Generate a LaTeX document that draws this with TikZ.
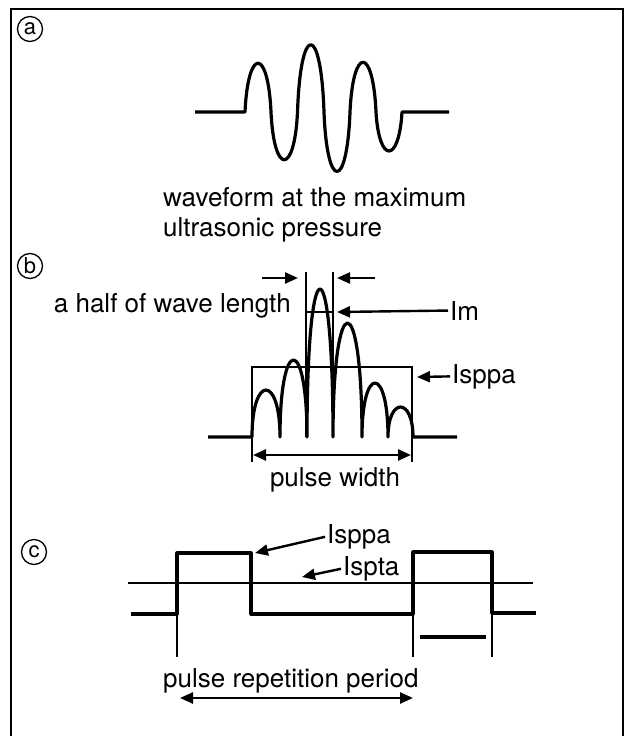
\documentclass[tikz,border=0pt]{standalone}
\usepackage{fontspec}
\setmainfont{TeX Gyre Heros}
\usetikzlibrary{arrows.meta}

\begin{document}
\begin{tikzpicture}[x=1pt,y=-1pt,
  wave/.style={line width=3.2pt, line join=round},
  guide/.style={line width=1.4pt},
  arr/.style={line width=2.4pt, shorten <=2pt, -{Triangle[length=13pt,width=11pt]}},
  darr/.style={line width=2.4pt, {Triangle[length=13pt,width=11pt]}-{Triangle[length=13pt,width=11pt]}},
  lbl/.style={inner sep=0pt, font=\fontsize{26}{30}\selectfont},
  tag/.style={circle, draw, line width=1.3pt, inner sep=0pt, minimum size=25pt,
    font=\fontsize{22}{22}\selectfont}]
\useasboundingbox (0,0) rectangle (637,736);
%% frame, open at the bottom
\draw[guide] (11,736) -- (11,9) -- (623,9) -- (623,736);

%% (a) waveform at the maximum pressure
\node[tag] (taga) at (30,29) {a};
\draw[wave] (195,112) -- (245,112)
  foreach \a/\b/\h in {245/271/50, 271/297.5/-49, 297.5/324/69,
                       324/350/-61, 350/376/51, 376/402/-40} {
    .. controls ({\a+3},{112-1.3*\h}) and ({\b-3},{112-1.3*\h}) .. (\b,112)
  } -- (449,112);
\node[lbl, anchor=base west] (capa) at (163,206) {waveform at the maximum};
\node[lbl, anchor=base west] (capb) at (163,236) {ultrasonic pressure};

%% (b) intensity pulse
\node[tag] (tagb) at (30,266) {b};
\draw[wave] (208,437) -- (252,437)
  foreach \a/\b/\h in {252/280/47, 280/307/77, 307/333/148,
                       333/362/114, 362/388/54, 388/413/30} {
    .. controls (\a,{437-1.333*\h}) and (\b,{437-1.333*\h}) .. (\b,437)
  } -- (457,437);
%% Isppa box and half wave length marks
\draw[guide] (252,462) -- (252,367) -- (412,367) -- (412,462);
\draw[guide] (306,272) -- (306,437);
\draw[guide] (333,272) -- (333,437);
\draw[guide] (306,312) -- (333,312);
\node[lbl, anchor=base east] (half) at (291,312) {a half of wave length};
\coordinate (hlA) at (262,278);
\coordinate (hlB) at (298,278);
\coordinate (hlC) at (375,278);
\coordinate (hlD) at (337,278);
\draw[arr, shorten <=0pt] (hlA) -- (hlB);
\draw[arr, shorten <=0pt] (hlC) -- (hlD);
\node[lbl, anchor=base west] (im) at (450,320) {Im};
\coordinate (imtip) at (337,312);
\draw[arr] (im.west) -- (imtip);
\node[lbl, anchor=base west] (isppab) at (452,383) {Isppa};
\coordinate (isppabtip) at (417,377);
\draw[arr] (isppab.west) -- (isppabtip);
\coordinate (pwL) at (253,455);
\coordinate (pwR) at (411,455);
\draw[darr] (pwL) -- (pwR);
\node[lbl, anchor=base] (pw) at (335,486) {pulse width};

%% (c) pulse train
\node[tag] (tagc) at (34,552) {c};
\draw[guide] (128,583) -- (533,583);
\draw[wave] (131,614) -- (177,614) -- (177,553) -- (251,553) -- (251,614)
  -- (413,614) -- (413,552) -- (492,552) -- (492,613) -- (536,613);
\draw[wave] (420,637) -- (486,637);
\draw[guide] (177,614) -- (177,657);
\draw[guide] (413,614) -- (413,657);
\draw[guide] (492,613) -- (492,657);
\node[lbl, anchor=base west] (isppac) at (327,543) {Isppa};
\coordinate (isppactip) at (255,553);
\draw[arr] (isppac.west) -- (isppactip);
\node[lbl, anchor=base west] (ispta) at (343,575) {Ispta};
\coordinate (isptatip) at (302,577);
\draw[arr] (ispta.west) -- (isptatip);
\node[lbl, anchor=base west] (prp) at (163,687) {pulse repetition period};
\coordinate (prpL) at (180,698);
\coordinate (prpR) at (413,698);
\draw[darr] (prpL) -- (prpR);
\end{tikzpicture}
\end{document}
